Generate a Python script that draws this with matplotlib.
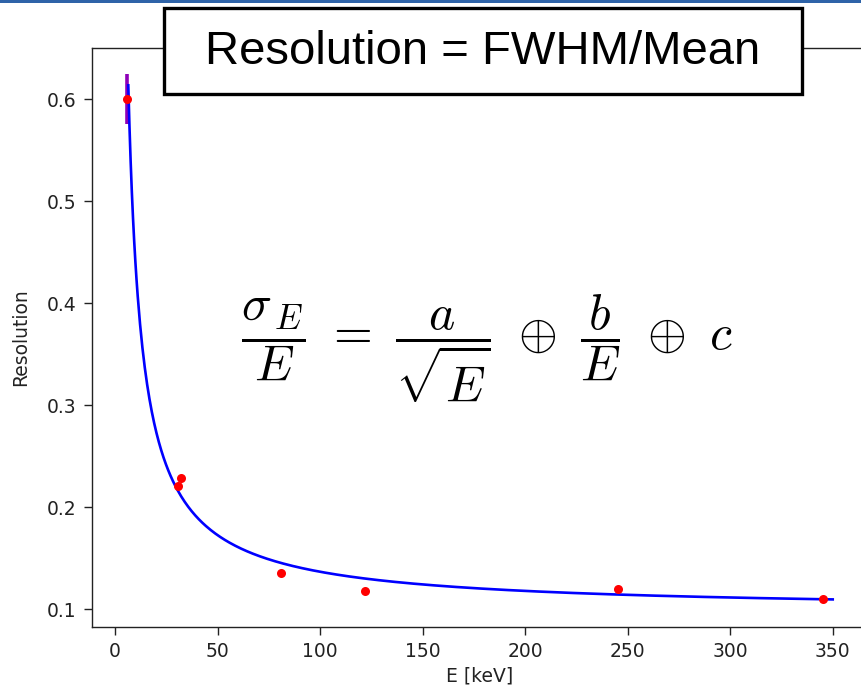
"""Energy resolution vs. energy with a calorimeter-style fit."""

import numpy as np
import matplotlib

matplotlib.use("Agg")
import matplotlib.pyplot as plt
from matplotlib.patches import Rectangle

# measured points
energy_kev = [6.0, 30.6, 32.2, 81.0, 122.0, 245.5, 345.4]
resolution = [0.600, 0.221, 0.228, 0.135, 0.118, 0.120, 0.110]
err_first = 0.0245

# fit sigma/E = a/sqrt(E) (+) b/E (+) c, parameters
fit_a = 0.8955
fit_b = 3.206
fit_c = 0.098
fit_range = (6.5, 350.0)

x_ticks = [0, 50, 100, 150, 200, 250, 300, 350]
y_ticks = [0.1, 0.2, 0.3, 0.4, 0.5, 0.6]

W, H = 861, 698
fig = plt.figure(figsize=(W / 100, H / 100), dpi=100)
ax = fig.add_axes([92 / W, 71 / H, 776 / W, 579 / H])

e_fit = np.linspace(fit_range[0], fit_range[1], 600)
r_fit = np.sqrt(fit_a**2 / e_fit + fit_b**2 / e_fit**2 + fit_c**2)

ax.errorbar(energy_kev[0], resolution[0], yerr=err_first, fmt="none",
            ecolor="#8E00B8", elinewidth=2.6, capsize=0, zorder=2)
ax.plot(e_fit, r_fit, color="blue", lw=1.9, zorder=3)
ax.plot(energy_kev, resolution, "o", color="red", ms=6.5, mec="none", zorder=4)

ax.set_xlim(-11.2, 367.2)
ax.set_ylim(0.0824, 0.65)
ax.set_xticks(x_ticks)
ax.set_yticks(y_ticks)
ax.set_xticklabels([str(t) for t in x_ticks])
ax.set_yticklabels([f"{t:.1f}" for t in y_ticks])
ax.tick_params(labelsize=13.5, length=6, width=1.0, colors="#222222", pad=5)
for s in ax.spines.values():
    s.set_linewidth(1.0)
    s.set_color("#222222")
ax.set_xlabel("E [keV]", fontsize=13.5, color="#222222", labelpad=4)
ax.set_ylabel("Resolution", fontsize=13.5, color="#222222", labelpad=12)

# formula
fig.text(487 / W, 1 - 349 / H,
         r"$\dfrac{\sigma_{\,E}}{E}\ =\ \dfrac{a}{\sqrt{E}}\ \oplus\ \dfrac{b}{E}\ \oplus\ c$",
         fontsize=36, ha="center", va="center", math_fontfamily="cm")

# title box overlapping the top of the axes
fig.patches.append(Rectangle((164 / W, 1 - 94 / H), (802 - 164) / W, 86 / H,
                             transform=fig.transFigure, facecolor="white",
                             edgecolor="black", linewidth=2.4, zorder=5))
fig.text(483 / W, 1 - 52 / H, "Resolution = FWHM/Mean", fontsize=34,
         family="Liberation Sans", ha="center", va="center", zorder=6)

# slide header rule
fig.patches.append(Rectangle((0, 1 - 3 / H), 1, 3 / H, transform=fig.transFigure,
                             facecolor="#2E63A8", edgecolor="none", zorder=7))

fig.savefig("out.png", dpi=100)
